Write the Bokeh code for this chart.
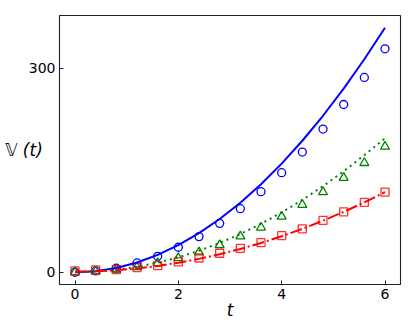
from bokeh.plotting import figure
from bokeh.models import FixedTicker, Range1d
from bokeh.embed import file_html
from bokeh.resources import INLINE

# sample times of the markers
t_pts = [0.0, 0.4, 0.8, 1.2, 1.6, 2.0, 2.4, 2.8, 3.2, 3.6, 4.0, 4.4, 4.8, 5.2, 5.6, 6.0]
# marker values
blue_pts = [0, 2, 5.9, 13.7, 23.5, 36.8, 52.5, 72, 93.6, 118.6, 146.6, 177, 210.8, 247, 286.8, 329]
green_pts = [0, 1, 3.9, 7.8, 13.7, 21, 29.4, 40, 53, 66, 82, 99.5, 118, 139, 161, 185]
red_pts = [2, 3.4, 3.9, 6.9, 9.8, 15.2, 21, 28, 35.3, 43.6, 54, 64, 76.5, 89, 103, 118]

# curve values
t_line = [0.0, 0.4, 0.8, 1.2, 1.6, 2.0, 2.4, 2.8, 3.2, 3.6, 4.0, 4.4, 4.8, 5.2, 5.6, 6.0]
blue_line = [0, 1.6, 6.4, 14.4, 25.6, 40, 57.6, 78.4, 102.4, 129.6, 160, 193.6, 230.4, 270.4, 313.6, 360]
green_line = [0, 0.9, 3.5, 7.9, 14.1, 22, 31.7, 43.1, 56.3, 71.3, 88, 106.5, 126.7, 148.7, 172.5, 197]
red_line = [1, 1.5, 3.1, 5.7, 9.3, 14, 19.7, 26.5, 34.3, 43.1, 53, 63.9, 75.9, 88.9, 102.9, 118]

x_ticks = [0, 2, 4, 6]
y_ticks = [0, 300]

p = figure(width=407, height=324, output_backend="svg", toolbar_location=None,
           x_range=Range1d(-0.3, 6.3), y_range=Range1d(-18, 378),
           min_border_left=59, min_border_top=15, min_border_right=7, min_border_bottom=40)

p.grid.visible = False
p.outline_line_color = "#222222"
p.outline_line_width = 1.1
p.background_fill_color = "white"
p.border_fill_color = "white"

for ax in (p.xaxis[0], p.yaxis[0]):
    ax.major_tick_in = 4
    ax.major_tick_out = 0
    ax.minor_tick_in = 0
    ax.minor_tick_out = 0
    ax.axis_line_color = "#222222"
    ax.major_tick_line_color = "#222222"
    ax.major_label_text_font = "DejaVu Sans"
    ax.major_label_text_font_size = "14px"
    ax.major_label_text_color = "black"
    ax.major_label_standoff = 4

p.xaxis.ticker = FixedTicker(ticks=x_ticks)
p.yaxis.ticker = FixedTicker(ticks=y_ticks)

p.xaxis.axis_label = "t"
p.xaxis.axis_label_text_font = "DejaVu Sans"
p.xaxis.axis_label_text_font_style = "italic"
p.xaxis.axis_label_text_font_size = "17px"
p.xaxis.axis_label_text_color = "black"
p.xaxis.axis_label_standoff = -2

p.yaxis.axis_label = "\U0001D54D (t)"
p.yaxis.axis_label_orientation = "horizontal"
p.yaxis.axis_label_text_font = "DejaVu Sans"
p.yaxis.axis_label_text_font_style = "italic"
p.yaxis.axis_label_text_font_size = "17px"
p.yaxis.axis_label_text_color = "black"
p.yaxis.axis_label_standoff = -17

# markers
p.scatter(t_pts, blue_pts, marker="circle", size=8, fill_color=None,
          line_color="#0000ff", line_width=1.3)
p.scatter(t_pts, green_pts, marker="triangle", size=9, fill_color=None,
          line_color="#008000", line_width=1.3)
p.scatter(t_pts, red_pts, marker="square", size=8, fill_color=None,
          line_color="#ff0000", line_width=1.3, line_alpha=0.8)

# curves
p.line(t_line, blue_line, line_color="#0000ff", line_width=2)
p.line(t_line, green_line, line_color="#008000", line_width=2, line_dash="2 4")
p.line(t_line, red_line, line_color="#ff0000", line_width=2, line_dash="12 3 2 3")

open("out.html", "w").write(file_html(p, INLINE))
